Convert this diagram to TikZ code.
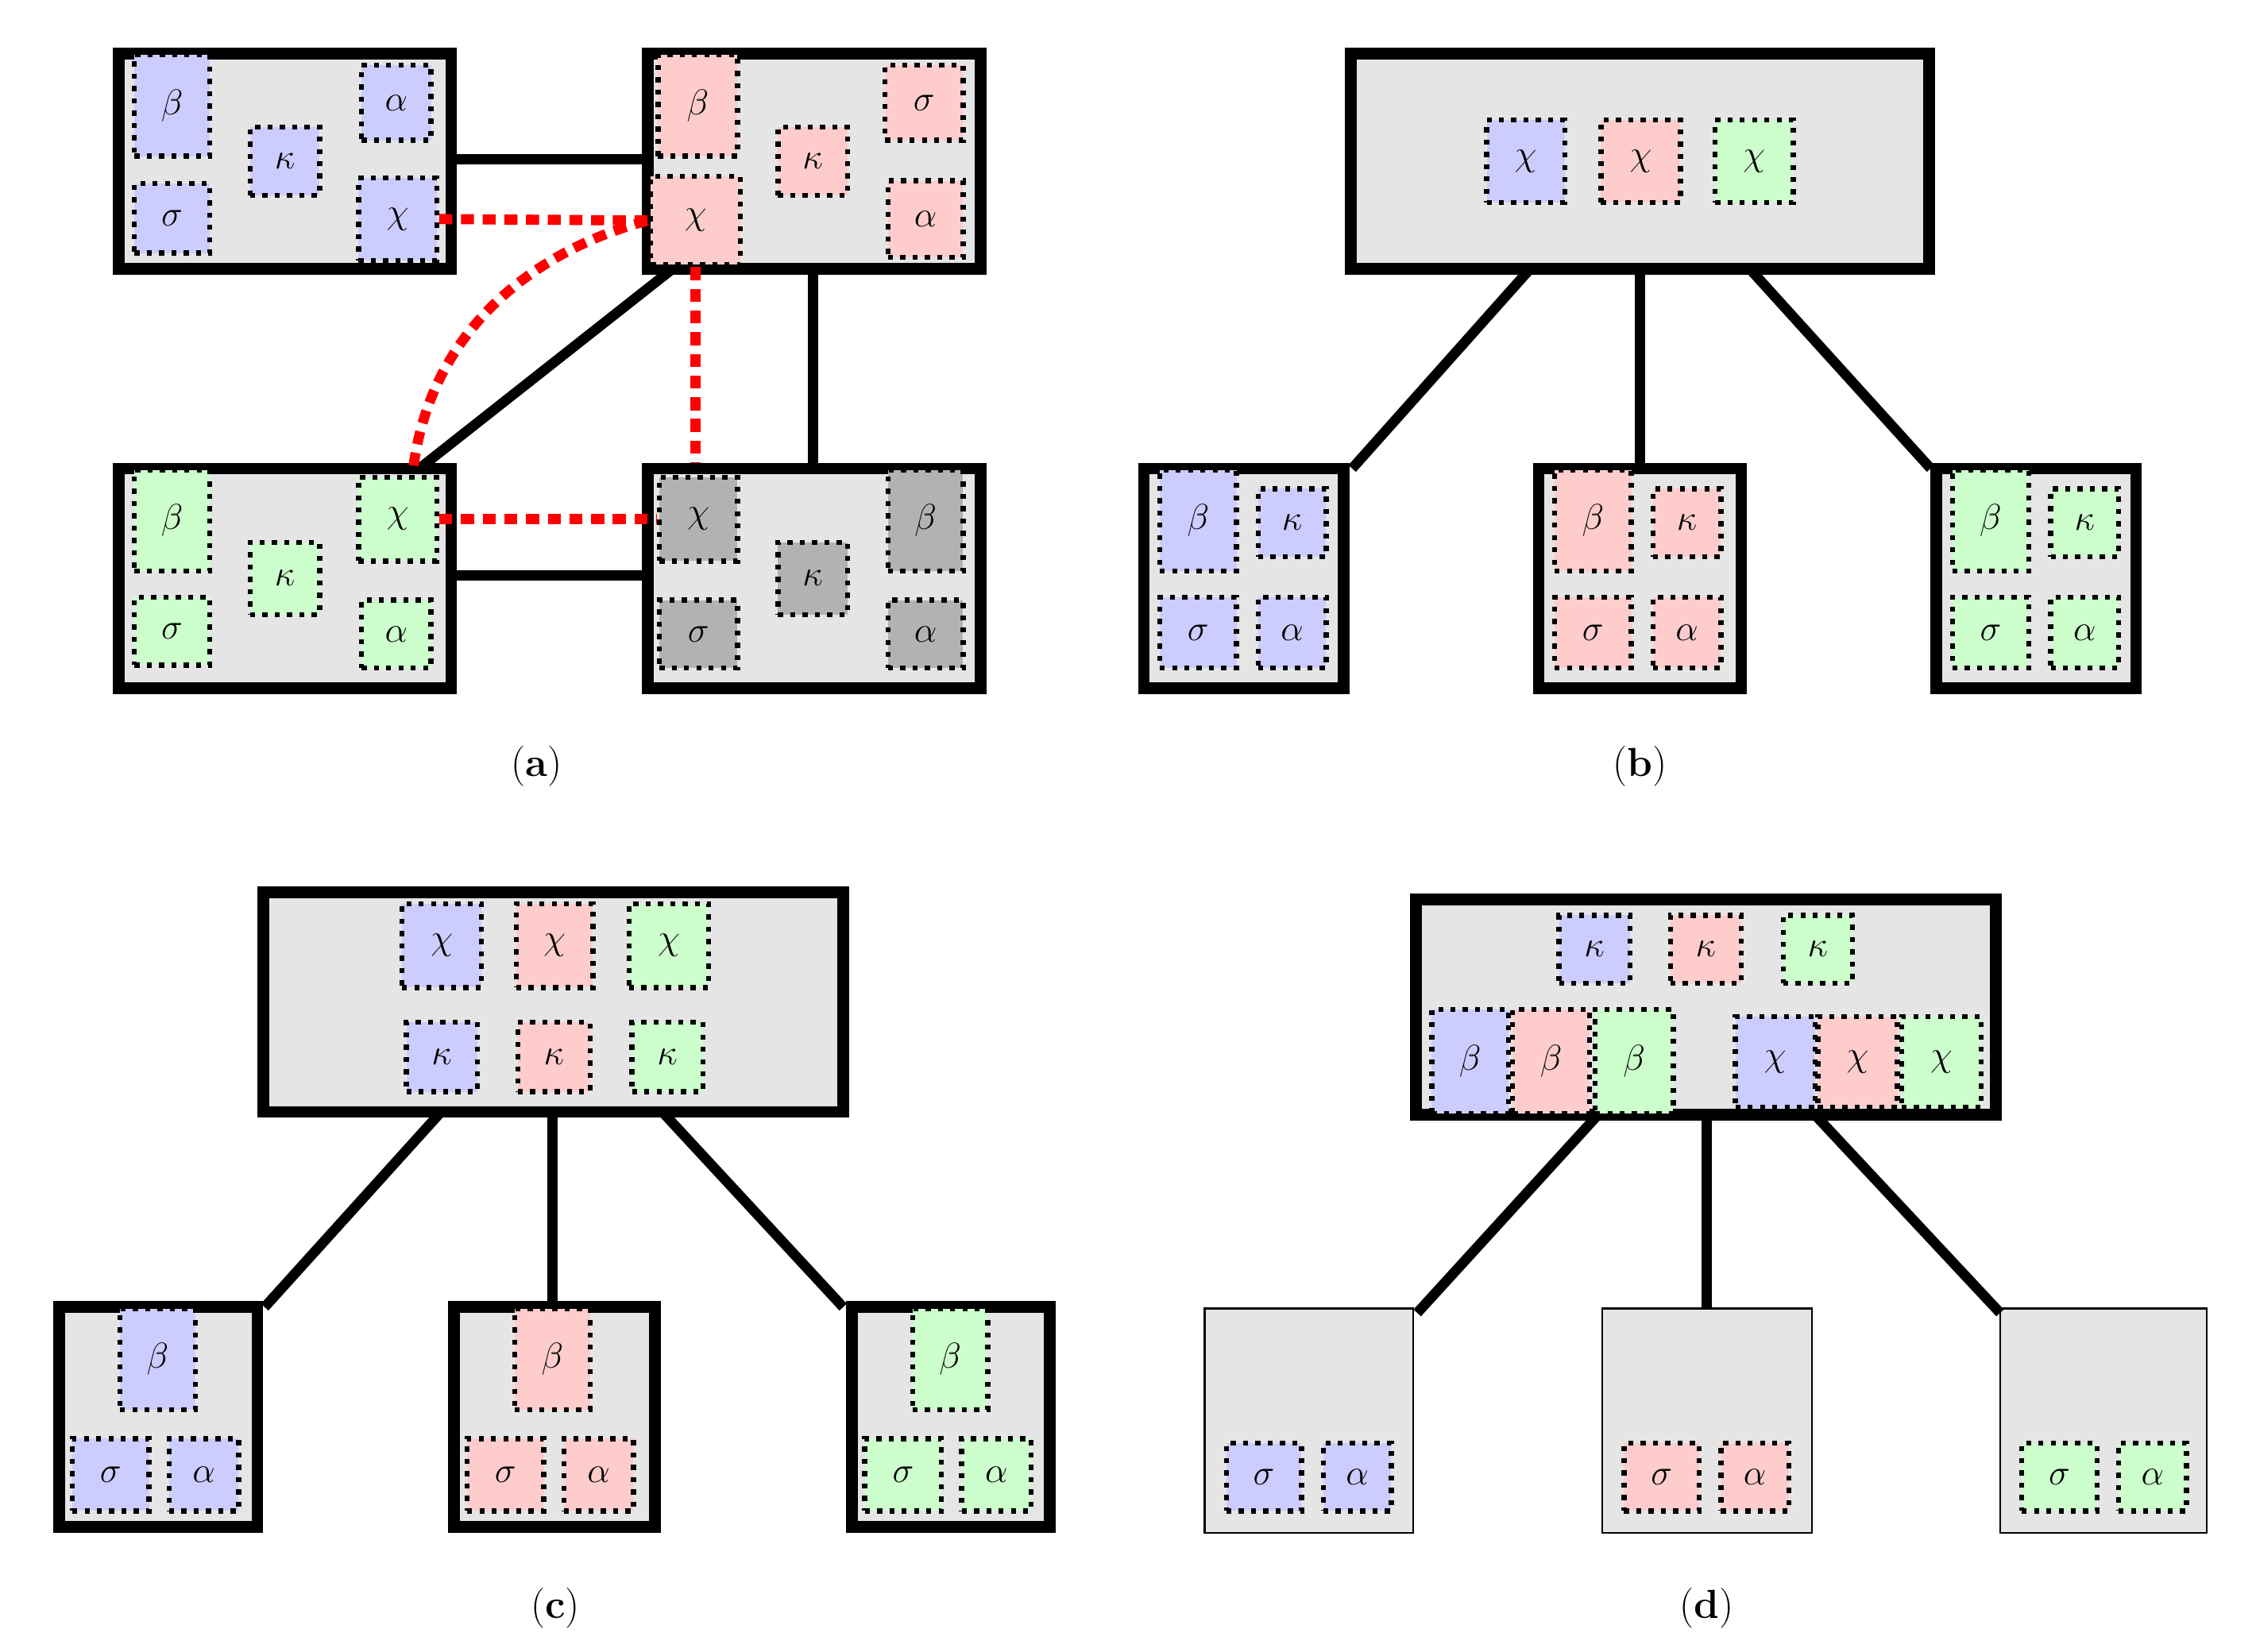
\documentclass[tikz,border=0pt]{standalone}
\usetikzlibrary{fit}
\definecolor{cb}{RGB}{204,204,255}
\definecolor{cr}{RGB}{255,204,204}
\definecolor{cg}{RGB}{204,255,204}
\definecolor{ck}{RGB}{178,178,178}
\definecolor{bg}{RGB}{229,229,229}
\tikzset{
 big/.style={draw=black,line width=8pt,fill=bg,inner sep=0pt},
 thin/.style={draw=black,line width=1.2pt,fill=bg,inner sep=0pt},
 sb/.style={fill=#1,draw=black,line width=3.5pt,dash pattern=on 3.5pt off 5pt,inner sep=0pt},
 con/.style={line width=7pt},
 rd/.style={red,line width=7pt,dash pattern=on 9pt off 6pt},
 lab/.style={font=\fontsize{28}{32}\selectfont}
}
\newcommand\bx[5]{\node[big,fit={(#2,#3)(#4,#5)}] (#1) {};}
\newcommand\tb[5]{\node[thin,fit={(#2,#3)(#4,#5)}] (#1) {};}
\newcommand\smallbox[7]{\node[sb=#6,fit={(#2,#3)(#4,#5)}] (#1) {};\node at (#1.center) {\fontsize{40}{44}\selectfont$#7$};}
\begin{document}
\begin{tikzpicture}[x=1pt,y=-1pt]
\useasboundingbox (0,0) rectangle (1560,1142.5);
\coordinate (h1) at (0,110);
\coordinate (h2) at (0,398);
% ---------- (a)
\bx{a1}{82}{37}{312}{186}
\bx{a2}{448}{37}{678}{186}
\bx{a3}{82}{324}{312}{476}
\bx{a4}{448}{324}{678}{476}
\draw[con] (a1.east|-h1) -- (a2.west|-h1);
\draw[con] (a3.east|-h2) -- (a4.west|-h2);
\coordinate (q1) at (465,186); \coordinate (q2) at (290,324);
\coordinate (q3) at (562,186); \coordinate (q4) at (562,324);
\draw[con] (q1) -- (q2);
\draw[con] (q3) -- (q4);
\smallbox{a1b}{93}{38}{145}{108}{cb}{\beta}
\smallbox{a1s}{93}{127}{145}{175}{cb}{\sigma}
\smallbox{a1k}{173}{88}{221}{135}{cb}{\kappa}
\smallbox{a1a}{250}{45}{298}{97}{cb}{\alpha}
\smallbox{a1c}{248}{123}{302}{180}{cb}{\chi}
\smallbox{a2b}{455}{38}{510}{108}{cr}{\beta}
\smallbox{a2c}{450}{122}{512}{183}{cr}{\chi}
\smallbox{a2k}{538}{88}{586}{135}{cr}{\kappa}
\smallbox{a2s}{612}{45}{666}{97}{cr}{\sigma}
\smallbox{a2a}{614}{125}{666}{178}{cr}{\alpha}
\smallbox{a3b}{93}{325}{145}{395}{cg}{\beta}
\smallbox{a3s}{93}{413}{145}{460}{cg}{\sigma}
\smallbox{a3k}{173}{375}{221}{425}{cg}{\kappa}
\smallbox{a3c}{248}{330}{302}{388}{cg}{\chi}
\smallbox{a3a}{250}{415}{298}{462}{cg}{\alpha}
\smallbox{a4c}{456}{330}{510}{388}{ck}{\chi}
\smallbox{a4b}{614}{325}{666}{395}{ck}{\beta}
\smallbox{a4k}{538}{375}{586}{425}{ck}{\kappa}
\smallbox{a4s}{456}{415}{510}{462}{ck}{\sigma}
\smallbox{a4a}{614}{415}{666}{462}{ck}{\alpha}
\draw[rd] (a1c.east) -- (a2c.west);
\draw[rd] (a3c.east) -- (a4c.west);
\draw[rd] (a2c.south) -- (a2c.south|-a4.north);
\coordinate (r1) at (286,322);
\draw[rd] (r1) .. controls (300,220) and (380,170) .. (a2c.west);
\node[lab] (la) at (371,530) {(\textbf{a})};
% ---------- (b)
\bx{b0}{934}{37}{1334}{186}
\smallbox{b0x}{1028}{83}{1082}{140}{cb}{\chi}
\smallbox{b0y}{1107}{83}{1162}{140}{cr}{\chi}
\smallbox{b0z}{1186}{83}{1240}{140}{cg}{\chi}
\bx{b1}{791}{324}{929}{476}
\bx{b2}{1064}{324}{1204}{476}
\bx{b3}{1339}{324}{1477}{476}
\coordinate (bu1) at (1058,186); \coordinate (bu2) at (1134,186); \coordinate (bu3) at (1210,186);
\coordinate (bd1) at (935,324); \coordinate (bd2) at (1134,324); \coordinate (bd3) at (1335,324);
\draw[con] (bu1) -- (bd1);
\draw[con] (bu2) -- (bd2);
\draw[con] (bu3) -- (bd3);
\foreach \n/\x/\c in {1/787/cb,2/1060/cr,3/1335/cg}{
 \smallbox{b\n-b}{\x+15}{325}{\x+68}{395}{\c}{\beta}
 \smallbox{b\n-k}{\x+83}{338}{\x+130}{385}{\c}{\kappa}
 \smallbox{b\n-s}{\x+15}{413}{\x+68}{462}{\c}{\sigma}
 \smallbox{b\n-a}{\x+83}{413}{\x+130}{462}{\c}{\alpha}
}
\node[lab] (lb) at (1134,530) {(\textbf{b})};
% ---------- (c)
\bx{c0}{182}{617}{583}{769}
\smallbox{c0x}{278}{625}{333}{683}{cb}{\chi}
\smallbox{c0y}{357}{625}{410}{683}{cr}{\chi}
\smallbox{c0z}{435}{625}{490}{683}{cg}{\chi}
\smallbox{c0k}{281}{707}{330}{755}{cb}{\kappa}
\smallbox{c0l}{358}{707}{408}{755}{cr}{\kappa}
\smallbox{c0m}{437}{707}{486}{755}{cg}{\kappa}
\bx{c1}{41}{904}{178}{1056}
\bx{c2}{314}{904}{453}{1056}
\bx{c3}{589}{904}{726}{1056}
\coordinate (cu1) at (305,769); \coordinate (cu2) at (382,769); \coordinate (cu3) at (458,769);
\coordinate (cd1) at (183,904); \coordinate (cd2) at (382,904); \coordinate (cd3) at (583,904);
\draw[con] (cu1) -- (cd1);
\draw[con] (cu2) -- (cd2);
\draw[con] (cu3) -- (cd3);
\foreach \n/\x/\c in {1/37/cb,2/310/cr,3/585/cg}{
 \smallbox{c\n-b}{\x+46}{905}{\x+98}{975}{\c}{\beta}
 \smallbox{c\n-s}{\x+13}{995}{\x+66}{1045}{\c}{\sigma}
 \smallbox{c\n-a}{\x+80}{995}{\x+128}{1045}{\c}{\alpha}
}
\node[lab] (lc) at (384,1112) {(\textbf{c})};
% ---------- (d)
\bx{d0}{979}{622}{1380}{771}
\smallbox{d0k}{1078}{633}{1127}{680}{cb}{\kappa}
\smallbox{d0l}{1155}{633}{1204}{680}{cr}{\kappa}
\smallbox{d0m}{1233}{633}{1281}{680}{cg}{\kappa}
\smallbox{d0b}{990}{698}{1043}{770}{cb}{\beta}
\smallbox{d0c}{1046}{698}{1099}{770}{cr}{\beta}
\smallbox{d0d}{1103}{698}{1157}{770}{cg}{\beta}
\smallbox{d0x}{1200}{703}{1255}{766}{cb}{\chi}
\smallbox{d0y}{1257}{703}{1312}{766}{cr}{\chi}
\smallbox{d0z}{1315}{703}{1370}{766}{cg}{\chi}
\tb{d1}{833}{905}{977}{1060}
\tb{d2}{1108}{905}{1253}{1060}
\tb{d3}{1383}{905}{1526}{1060}
\coordinate (du1) at (1105,771); \coordinate (du2) at (1180,771); \coordinate (du3) at (1255,771);
\coordinate (dd1) at (980,908); \coordinate (dd2) at (1180,905); \coordinate (dd3) at (1383,908);
\draw[con] (du1) -- (dd1);
\draw[con] (du2) -- (dd2);
\draw[con] (du3) -- (dd3);
\foreach \n/\x/\c in {1/833/cb,2/1108/cr,3/1383/cg}{
 \smallbox{d\n-s}{\x+15}{998}{\x+67}{1045}{\c}{\sigma}
 \smallbox{d\n-a}{\x+82}{998}{\x+129}{1045}{\c}{\alpha}
}
\node[lab] (ld) at (1180,1112) {(\textbf{d})};
\end{tikzpicture}
\end{document}
